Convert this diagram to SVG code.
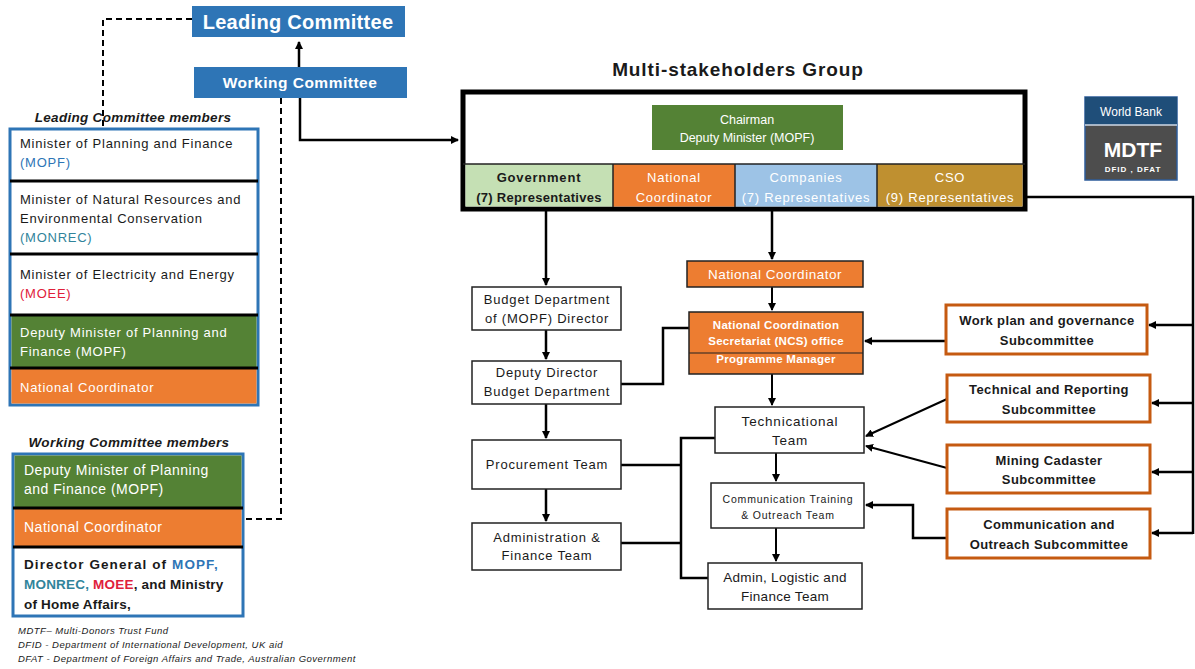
<svg xmlns="http://www.w3.org/2000/svg" width="1195" height="669" viewBox="0 0 1195 669">
<defs>
<marker id="ah" markerWidth="8" markerHeight="8" refX="7" refY="4" orient="auto" markerUnits="userSpaceOnUse"><path d="M0,0 L8,4 L0,8 z" fill="#000"/></marker>
<style>
text{font-family:"Liberation Sans",Arial,sans-serif;}
.w{fill:#fff;}
.k{fill:#1a1a1a;}
.b{font-weight:bold;}
.c{text-anchor:middle;}
.box{fill:#fff;stroke:#222;stroke-width:1.5;}
.sub{fill:#fff;stroke:#c55a11;stroke-width:3;}
.ln{fill:none;stroke:#000;stroke-width:2.5;}
.thin{fill:none;stroke:#000;stroke-width:2;}
.dash{fill:none;stroke:#000;stroke-width:2;stroke-dasharray:6,4;}
.sep{stroke:#000;stroke-width:3;}
.it{font-style:italic;font-weight:bold;}
.blue{fill:#2e75b6;}
.teal{fill:#31849b;}
.red{fill:#e0203a;}
.lp{font-size:13px;letter-spacing:0.75px;}
.mid{font-size:13px;letter-spacing:0.8px;}
.st{font-size:13px;letter-spacing:0.4px;font-weight:bold;}
.row{font-size:13px;letter-spacing:0.8px;}
</style>
</defs>
<rect width="1195" height="669" fill="#fff"/>

<g id="connectors">
<path class="dash" d="M192,19 H103 V126"/>
<path class="dash" d="M281,98 V519 H243"/>
<path class="ln" d="M299,67 V42" marker-end="url(#ah)"/>
<path class="ln" d="M300,98 V140 H458" marker-end="url(#ah)"/>
<path class="ln" d="M546,211 V285" marker-end="url(#ah)"/>
<path class="ln" d="M546,330 V359" marker-end="url(#ah)"/>
<path class="ln" d="M546,404 V438" marker-end="url(#ah)"/>
<path class="ln" d="M546,489 V521" marker-end="url(#ah)"/>
<path class="ln" d="M621,384 H663 V328 H689"/>
<path class="ln" d="M621,465 H681"/>
<path class="ln" d="M621,543 H681"/>
<path class="ln" d="M715,438 H681 V578 H708"/>
<path class="ln" d="M772,211 V259" marker-end="url(#ah)"/>
<path class="thin" d="M772,287 V310" marker-end="url(#ah)"/>
<path class="thin" d="M772,374 V405" marker-end="url(#ah)"/>
<path class="thin" d="M776,453 V481" marker-end="url(#ah)"/>
<path class="thin" d="M776,528 V561" marker-end="url(#ah)"/>
<path class="ln" d="M1027,197 H1193 V534"/>
<path class="ln" d="M1193,325 H1149" marker-end="url(#ah)"/>
<path class="ln" d="M1193,403 H1152" marker-end="url(#ah)"/>
<path class="ln" d="M1193,472 H1152" marker-end="url(#ah)"/>
<path class="ln" d="M1193,533 H1152" marker-end="url(#ah)"/>
<path class="ln" d="M946,341 H865" marker-end="url(#ah)"/>
<path class="thin" d="M947,399 L866,436" marker-end="url(#ah)"/>
<path class="thin" d="M947,468 L866,446" marker-end="url(#ah)"/>
<path class="ln" d="M947,538 H913 V505 H866" marker-end="url(#ah)"/>
</g>

<g id="leading-committee">
<rect x="192" y="6" width="213" height="31" fill="#2e75b6"/>
<text x="298" y="29" class="w b c" font-size="20" letter-spacing="0.3">Leading Committee</text>
</g>
<g id="working-committee">
<rect x="194" y="67" width="213" height="31" fill="#2e75b6"/>
<text x="300" y="88" class="w b c" font-size="15.5" letter-spacing="0.5">Working Committee</text>
</g>

<g id="leading-members">
<text x="133" y="122" class="k it c" font-size="13.5" letter-spacing="0.3">Leading Committee members</text>
<rect x="10" y="129" width="248" height="276" fill="#fff" stroke="#2e75b6" stroke-width="3"/>
<rect x="11.5" y="315" width="245" height="53" fill="#548235"/>
<rect x="11.5" y="368" width="245" height="35.5" fill="#ed7d31"/>
<line class="sep" x1="10" y1="181" x2="258" y2="181"/>
<line class="sep" x1="10" y1="254" x2="258" y2="254"/>
<line class="sep" x1="10" y1="315" x2="258" y2="315"/>
<line class="sep" x1="10" y1="368" x2="258" y2="368"/>
<text x="20" y="148" class="k lp">Minister of Planning and Finance</text>
<text x="20" y="167" class="blue lp">(MOPF)</text>
<text x="20" y="204" class="k lp">Minister of Natural Resources and</text>
<text x="20" y="223" class="k lp">Environmental Conservation</text>
<text x="20" y="242" class="teal lp">(MONREC)</text>
<text x="20" y="279" class="k lp">Minister of Electricity and Energy</text>
<text x="20" y="298" class="red lp">(MOEE)</text>
<text x="20" y="337" class="w lp">Deputy Minister of Planning and</text>
<text x="20" y="356" class="w lp">Finance (MOPF)</text>
<text x="20" y="392" class="w lp">National Coordinator</text>
</g>

<g id="working-members">
<text x="129" y="447" class="k it c" font-size="13.5" letter-spacing="0.4">Working Committee members</text>
<rect x="13" y="454" width="230" height="162" fill="#fff" stroke="#2e75b6" stroke-width="3"/>
<rect x="14.5" y="455.5" width="227" height="52.5" fill="#548235"/>
<rect x="14.5" y="508" width="227" height="39" fill="#ed7d31"/>
<line class="sep" x1="13" y1="508" x2="243" y2="508"/>
<line class="sep" x1="13" y1="547" x2="243" y2="547"/>
<text x="24" y="475" class="w" font-size="14" letter-spacing="0.5">Deputy Minister of Planning</text>
<text x="24" y="494" class="w" font-size="14" letter-spacing="0.5">and Finance (MOPF)</text>
<text x="24" y="532" class="w" font-size="14" letter-spacing="0.5">National Coordinator</text>
<text x="24" y="569" class="k b" font-size="13.5" letter-spacing="1.1">Director General of <tspan class="blue">MOPF,</tspan></text>
<text x="24" y="589" class="k b" font-size="13.5" letter-spacing="0.2"><tspan class="teal">MONREC,</tspan> <tspan class="red">MOEE</tspan>, and Ministry</text>
<text x="24" y="609" class="k b" font-size="13.5" letter-spacing="0.2">of Home Affairs,</text>
</g>

<g id="footer">
<text x="18" y="634" class="k" font-size="9.5" font-style="italic" letter-spacing="0.5">MDTF– Multi-Donors Trust Fund</text>
<text x="18" y="648" class="k" font-size="9.5" font-style="italic" letter-spacing="0.5">DFID - Department of International Development, UK aid</text>
<text x="18" y="662" class="k" font-size="9.5" font-style="italic" letter-spacing="0.5">DFAT - Department of Foreign Affairs and Trade, Australian Government</text>
</g>

<g id="msg">
<text x="738" y="76" class="k b c" font-size="19" letter-spacing="0.9">Multi-stakeholders Group</text>
<rect x="463" y="92" width="562" height="117" fill="#fff" stroke="#000" stroke-width="5"/>
<rect x="652" y="105" width="191" height="45" fill="#548235"/>
<text x="747" y="124" class="w c" font-size="12.5">Chairman</text>
<text x="747" y="142" class="w c" font-size="12.5">Deputy Minister (MOPF)</text>
<rect x="465.5" y="164" width="147.5" height="42.5" fill="#c5e0b4"/>
<rect x="613" y="164" width="122" height="42.5" fill="#ed7d31"/>
<rect x="735" y="164" width="142" height="42.5" fill="#9dc3e6"/>
<rect x="877" y="164" width="145.5" height="42.5" fill="#bf9030"/>
<line x1="463" y1="164" x2="1025" y2="164" stroke="#222" stroke-width="1.5"/>
<line x1="613" y1="164" x2="613" y2="207" stroke="#222" stroke-width="1.5"/>
<line x1="735" y1="164" x2="735" y2="207" stroke="#222" stroke-width="1.5"/>
<line x1="877" y1="164" x2="877" y2="207" stroke="#222" stroke-width="1.5"/>
<text x="539" y="182" class="k b c row">Government</text>
<text x="539" y="202" class="k b c" font-size="13" letter-spacing="0.3">(7) Representatives</text>
<text x="674" y="182" class="w c row">National</text>
<text x="674" y="202" class="w c row">Coordinator</text>
<text x="806" y="182" class="w c row">Companies</text>
<text x="806" y="202" class="w c row">(7) Representatives</text>
<text x="950" y="182" class="w c row">CSO</text>
<text x="950" y="202" class="w c row">(9) Representatives</text>
</g>

<g id="world-bank">
<rect x="1085" y="97" width="92" height="83" fill="#4d4d4d" stroke="#2e5c9a" stroke-width="1.5"/>
<rect x="1085" y="97" width="92" height="28" fill="#1f4e79"/>
<line x1="1085" y1="125" x2="1177" y2="125" stroke="#cfd8e6" stroke-width="1.5"/>
<text x="1131" y="116" class="w c" font-size="12">World Bank</text>
<text x="1133" y="157" class="w b c" font-size="21">MDTF</text>
<text x="1133" y="172" class="w b c" font-size="8" letter-spacing="1">DFID , DFAT</text>
</g>

<g id="budget-director">
<rect class="box" x="472" y="287" width="149" height="43"/>
<text x="547" y="304" class="k c mid">Budget Department</text>
<text x="547" y="323" class="k c mid">of (MOPF) Director</text>
</g>
<g id="deputy-director">
<rect class="box" x="472" y="361" width="149" height="43"/>
<text x="547" y="377" class="k c mid">Deputy Director</text>
<text x="547" y="396" class="k c mid">Budget Department</text>
</g>
<g id="procurement">
<rect class="box" x="472" y="440" width="149" height="49"/>
<text x="547" y="469" class="k c mid">Procurement Team</text>
</g>
<g id="admin-finance">
<rect class="box" x="472" y="523" width="149" height="47"/>
<text x="547" y="542" class="k c mid">Administration &amp;</text>
<text x="547" y="560" class="k c mid">Finance Team</text>
</g>

<g id="national-coordinator">
<rect x="687" y="261" width="176" height="26" fill="#ed7d31" stroke="#222" stroke-width="1.5"/>
<text x="775" y="279" class="w c" font-size="13.5" letter-spacing="0.5">National Coordinator</text>
</g>
<g id="ncs-office">
<rect x="689" y="312" width="174" height="62" fill="#ed7d31" stroke="#222" stroke-width="1.5"/>
<line x1="689" y1="353" x2="863" y2="353" stroke="#222" stroke-width="1.2"/>
<text x="776" y="329" class="w b c" font-size="11.5" letter-spacing="0.3">National Coordination</text>
<text x="776" y="345" class="w b c" font-size="11.5" letter-spacing="0.3">Secretariat (NCS) office</text>
<text x="776" y="363" class="w b c" font-size="11.5" letter-spacing="0.3">Programme Manager</text>
</g>
<g id="technical-team">
<rect class="box" x="715" y="407" width="149" height="46"/>
<text x="790" y="426" class="k c" font-size="13.5" letter-spacing="0.8">Technicational</text>
<text x="790" y="445" class="k c" font-size="13.5" letter-spacing="0.8">Team</text>
</g>
<g id="comm-team">
<rect class="box" x="711" y="483" width="153" height="45"/>
<text x="788" y="503" class="k c" font-size="10.5" letter-spacing="0.8">Communication Training</text>
<text x="788" y="519" class="k c" font-size="10.5" letter-spacing="0.8">&amp; Outreach Team</text>
</g>
<g id="admin-logistic">
<rect class="box" x="708" y="563" width="154" height="46"/>
<text x="785" y="582" class="k c" font-size="13.5" letter-spacing="0.3">Admin, Logistic and</text>
<text x="785" y="601" class="k c" font-size="13.5" letter-spacing="0.3">Finance Team</text>
</g>

<g id="workplan-sub">
<rect class="sub" x="946" y="305" width="201" height="49"/>
<text x="1047" y="325" class="k c st">Work plan and governance</text>
<text x="1047" y="345" class="k c st">Subcommittee</text>
</g>
<g id="technical-sub">
<rect class="sub" x="947" y="375" width="203" height="47"/>
<text x="1049" y="394" class="k c st">Technical and Reporting</text>
<text x="1049" y="414" class="k c st">Subcommittee</text>
</g>
<g id="mining-sub">
<rect class="sub" x="947" y="445" width="203" height="48"/>
<text x="1049" y="465" class="k c st">Mining Cadaster</text>
<text x="1049" y="484" class="k c st">Subcommittee</text>
</g>
<g id="comm-sub">
<rect class="sub" x="947" y="509" width="203" height="49"/>
<text x="1049" y="529" class="k c st">Communication and</text>
<text x="1049" y="549" class="k c st">Outreach Subcommittee</text>
</g>
</svg>
